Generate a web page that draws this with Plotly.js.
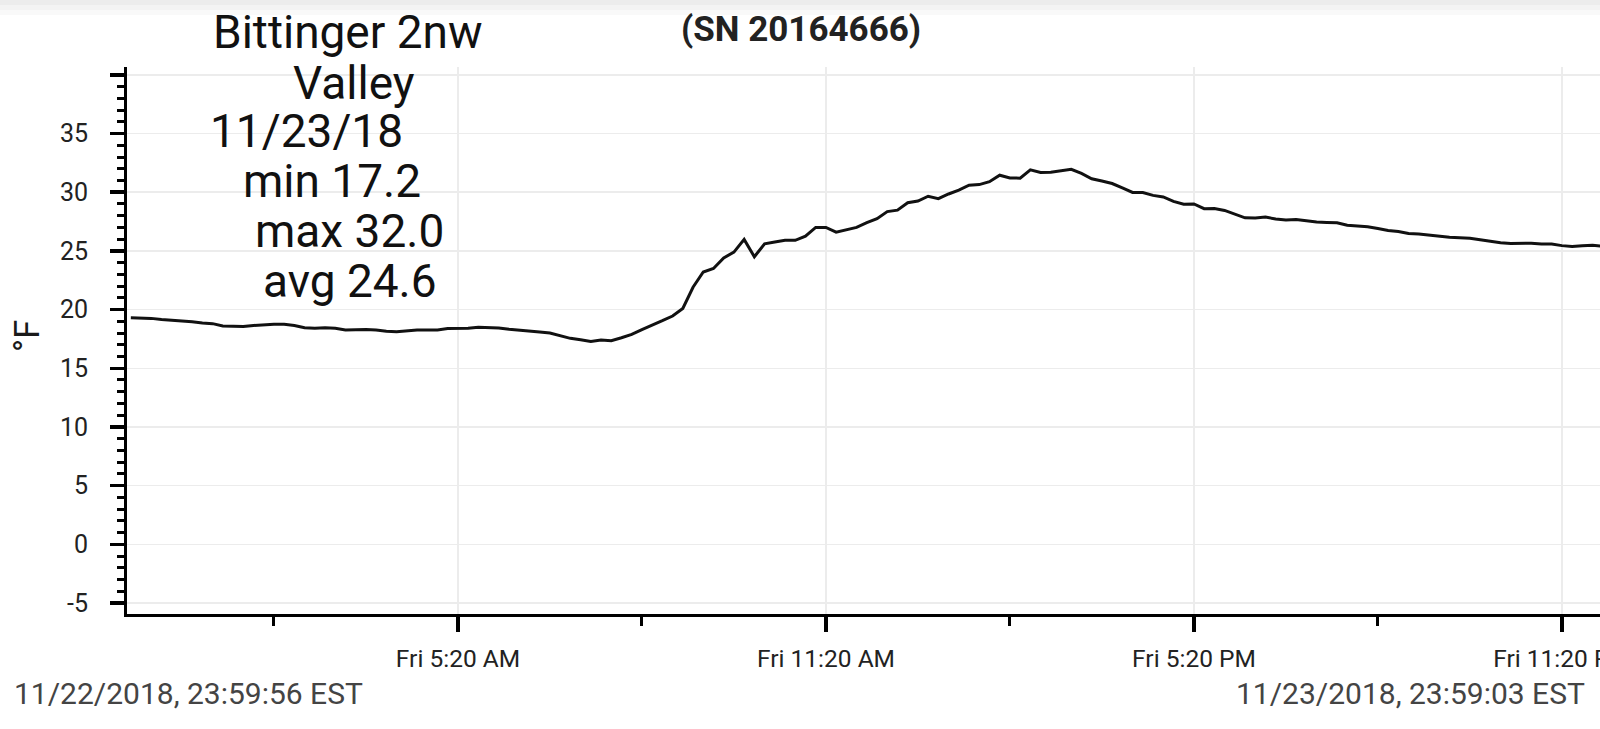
<!DOCTYPE html>
<html>
<head>
<meta charset="utf-8">
<script src="https://cdn.plot.ly/plotly-3.0.1.min.js"></script>
<style>
  html, body { margin: 0; padding: 0; background: #ffffff; overflow: hidden; }
  #chart { width: 1600px; height: 729px; }
</style>
</head>
<body>
<div id="chart"></div>
<script>
// ---------------- DATA ----------------
// Logger start time and sampling interval (10 minutes)
const startTime = '2018-11-22T23:59:56Z';
const stepMinutes = 10;

// Temperature readings (°F), one every 10 minutes
const temps = [
  19.30, 19.30, 19.25, 19.15, 19.10, 19.05, 18.97, 18.85, 18.80, 18.60,
  18.55, 18.55, 18.65, 18.72, 18.75, 18.75, 18.65, 18.45, 18.40, 18.45,
  18.40, 18.27, 18.30, 18.30, 18.25, 18.15, 18.12, 18.20, 18.26, 18.25,
  18.27, 18.38, 18.40, 18.40, 18.49, 18.47, 18.43, 18.32, 18.22, 18.15,
  18.08, 18.00, 17.75, 17.55, 17.43, 17.28, 17.40, 17.35, 17.60, 17.88,
  18.30, 18.65, 19.05, 19.45, 20.10, 21.90, 23.20, 23.50, 24.40, 24.90,
  25.98, 24.50, 25.60, 25.75, 25.90, 25.90, 26.25, 27.00, 27.00, 26.60,
  26.80, 27.00, 27.40, 27.75, 28.35, 28.47, 29.10, 29.25, 29.66, 29.45,
  29.85, 30.17, 30.60, 30.65, 30.90, 31.45, 31.22, 31.20, 31.90, 31.68,
  31.70, 31.80, 31.95, 31.60, 31.15, 30.95, 30.74, 30.37, 29.98, 29.98,
  29.73, 29.60, 29.22, 28.98, 29.00, 28.60, 28.62, 28.45, 28.15, 27.82,
  27.80, 27.88, 27.72, 27.63, 27.68, 27.54, 27.46, 27.43, 27.40, 27.18,
  27.10, 27.05, 26.90, 26.74, 26.65, 26.48, 26.44, 26.35, 26.24, 26.16,
  26.13, 26.08, 25.95, 25.80, 25.70, 25.64, 25.66, 25.65, 25.58, 25.58,
  25.45, 25.37, 25.43, 25.49, 25.40
];

// Y axis tick values and labels
const yTickVals = [-5, 0, 5, 10, 15, 20, 25, 30, 35, 40];
const yTickText = ['-5', '0', '5', '10', '15', '20', '25', '30', '35', ''];

// Text content
const titleLines = ['Bittinger 2nw', 'Valley', '11/23/18', 'min 17.2', 'max 32.0', 'avg 24.6'];
const serialText = '(SN 20164666)';
const yAxisLabel = '°F';
const startLabel = '11/22/2018, 23:59:56 EST';
const endLabel = '11/23/2018, 23:59:03 EST';

// ---------------- BUILD TIMES ----------------
function fmt(d) {
  const p = n => String(n).padStart(2, '0');
  return d.getUTCFullYear() + '-' + p(d.getUTCMonth() + 1) + '-' + p(d.getUTCDate()) + ' ' +
         p(d.getUTCHours()) + ':' + p(d.getUTCMinutes()) + ':' + p(d.getUTCSeconds());
}
const t0 = new Date(startTime).getTime();
const times = temps.map((_, i) => fmt(new Date(t0 + i * stepMinutes * 60000)));

// ---------------- LAYOUT GEOMETRY ----------------
const W = 1600, H = 729;
const ML = 127, MR = 0, MT = 67, MB = 115;
const PW = W - ML - MR, PH = H - MT - MB;
const px = x => (x - ML) / PW;
const py = y => (H - MB - y) / PH;

const FONT = 'Roboto, "Open Sans", sans-serif';

const titleSpecs = [
  {x: 211, y: 32},
  {x: 291, y: 83},
  {x: 208, y: 131},
  {x: 241, y: 181},
  {x: 253, y: 231},
  {x: 261, y: 281}
];

const annotations = titleLines.map((t, i) => ({
  text: t, xref: 'paper', yref: 'paper',
  x: px(titleSpecs[i].x), y: py(titleSpecs[i].y),
  xanchor: 'left', yanchor: 'middle', showarrow: false,
  font: {family: FONT, size: 46, color: '#111'}
}));

annotations.push({
  text: '<b>' + serialText + '</b>', xref: 'paper', yref: 'paper',
  x: px(801), y: py(30), xanchor: 'center', yanchor: 'middle', showarrow: false,
  font: {family: FONT, size: 35, color: '#222'}
});
annotations.push({
  text: yAxisLabel, xref: 'paper', yref: 'paper', textangle: -90,
  x: px(27), y: py(336), xanchor: 'center', yanchor: 'middle', showarrow: false,
  font: {family: FONT, size: 35, color: '#1a1a1a'}
});
annotations.push({
  text: startLabel, xref: 'paper', yref: 'paper',
  x: px(12), y: py(693), xanchor: 'left', yanchor: 'middle', showarrow: false,
  font: {family: FONT, size: 30, color: '#444'}
});
annotations.push({
  text: endLabel, xref: 'paper', yref: 'paper',
  x: px(1587), y: py(693), xanchor: 'right', yanchor: 'middle', showarrow: false,
  font: {family: FONT, size: 30, color: '#444'}
});

// faint top band (phone status shadow)
const shapes = [
  {type: 'rect', xref: 'paper', yref: 'paper', x0: px(0), x1: px(1600), y0: py(0), y1: py(5), fillcolor: '#ececec', line: {width: 0}, layer: 'below'},
  {type: 'rect', xref: 'paper', yref: 'paper', x0: px(0), x1: px(1600), y0: py(5), y1: py(10), fillcolor: '#f3f3f3', line: {width: 0}, layer: 'below'},
  {type: 'rect', xref: 'paper', yref: 'paper', x0: px(0), x1: px(1600), y0: py(10), y1: py(15), fillcolor: '#f9f9f9', line: {width: 0}, layer: 'below'}
];

const trace = {
  x: times, y: temps, type: 'scatter', mode: 'lines',
  line: {color: '#111', width: 3, shape: 'linear'},
  hoverinfo: 'x+y'
};

const layout = {
  width: W, height: H,
  margin: {l: ML, r: MR, t: MT, b: MB, pad: 0},
  paper_bgcolor: '#ffffff', plot_bgcolor: '#ffffff',
  showlegend: false,
  font: {family: FONT, color: '#222'},
  xaxis: {
    type: 'date',
    range: ['2018-11-22 23:56:12', '2018-11-23 23:57:12'],
    tickmode: 'linear', tick0: '2018-11-23 05:20:00', dtick: 6 * 3600 * 1000,
    tickformat: '%a %-I:%M %p',
    ticks: 'outside', ticklen: 15, tickwidth: 3.5, tickcolor: '#000',
    showline: true, linewidth: 3, linecolor: '#000',
    showgrid: true, gridcolor: '#ececec', gridwidth: 1.5,
    zeroline: false,
    tickfont: {family: FONT, size: 24.5, color: '#222'},
    ticklabelstandoff: 6,
    ticklabeloverflow: 'allow',
    minor: {
      tickmode: 'linear', tick0: '2018-11-23 02:20:00', dtick: 3 * 3600 * 1000,
      ticks: 'outside', ticklen: 9, tickwidth: 3, tickcolor: '#000', showgrid: false
    }
  },
  yaxis: {
    range: [-5.94, 40.67],
    tickmode: 'array', tickvals: yTickVals, ticktext: yTickText,
    ticks: 'outside', ticklen: 14, tickwidth: 3.5, tickcolor: '#000',
    showline: true, linewidth: 3, linecolor: '#000',
    showgrid: true, gridcolor: '#ececec', gridwidth: 1.5,
    zeroline: false,
    tickfont: {family: FONT, size: 25, color: '#222'},
    ticklabelstandoff: 17,
    minor: {
      tickmode: 'linear', tick0: 0, dtick: 1,
      ticks: 'outside', ticklen: 7, tickwidth: 3, tickcolor: '#000', showgrid: false
    }
  },
  annotations: annotations,
  shapes: shapes
};

Plotly.newPlot('chart', [trace], layout, {displayModeBar: false, staticPlot: true});
</script>
</body>
</html>
